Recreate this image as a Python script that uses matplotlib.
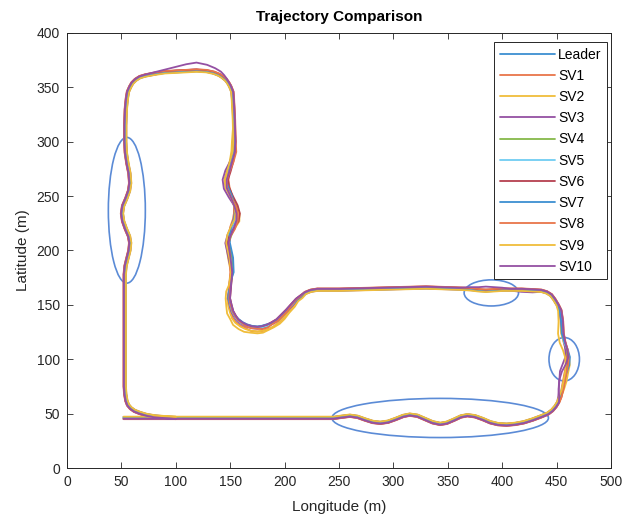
import numpy as np
import matplotlib
matplotlib.use("Agg")
import matplotlib.pyplot as plt
from matplotlib.patches import Ellipse

plt.rcParams["font.family"] = ["Liberation Sans", "DejaVu Sans"]

# Leader route (m), starting bottom-left
bottom_x = [52, 100, 160, 210, 245]
bottom_y = [46, 46, 46, 46, 46]
wave_x = [252, 260, 267, 274, 281, 288, 295, 302, 309, 315, 322, 329, 336, 343, 349, 356, 362, 368,
          375, 382, 389, 396, 404, 412, 420, 428, 436]
wave_y = [47, 48, 47, 44.5, 42.3, 41.5, 42.5, 45, 47.8, 49, 48, 45, 42, 40.5, 41.5, 44.5, 47.3, 48.5,
          47.5, 45, 42, 40.3, 39.8, 40.5, 42, 44.5, 47.5]
corner_br_x = [442, 446, 449, 451.5]
corner_br_y = [50, 53, 56.5, 60.5]
right_x = [453.5, 455, 456.5, 458, 459.5, 460, 459, 457, 455.5, 455, 453.5]
right_y = [65.5, 72, 80, 88, 95, 102, 109, 116, 124, 135, 145]
corner_tr_x = [451, 448, 445, 441, 436]
corner_tr_y = [150, 155, 159, 161.5, 163]
top_mid_x = [428, 418, 408, 400, 392, 385, 378, 370, 360, 330, 290, 250]
top_mid_y = [163.5, 164, 164, 164, 163.5, 163, 163.5, 164.5, 165, 166, 165, 164]
dip_x = [230, 224, 219, 215, 211, 207, 202, 197, 193, 188, 184, 179, 175, 170, 165, 161, 157,
         154.5, 152, 150.5, 149, 149.5]
dip_y = [164, 163, 161, 158, 155, 150.5, 145, 140, 136, 133, 131, 129.5, 129, 129.5, 131, 133, 136,
         139.5, 144, 149.5, 156, 162]
mid_x = [150, 152, 150.5, 147.5, 148.5, 151.5, 155, 156, 155, 151.5, 148, 147, 148.5, 151, 153.5,
         154, 153.5, 152.5]
mid_y = [168, 180, 193, 207, 214, 221, 228, 234, 241, 250, 258, 265, 273, 282, 291, 300, 320, 340]
corner_tm_x = [152, 150, 148, 146, 143, 140, 135]
corner_tm_y = [346, 351, 354.5, 357, 359.5, 361.5, 363.5]
top_x = [128, 119, 110, 100, 90, 80, 72]
top_y = [365, 365.5, 365, 364.5, 364, 362.5, 361]
corner_tl_x = [67, 63, 60, 58, 56, 55, 54]
corner_tl_y = [359.5, 357, 354, 350.5, 346, 340, 330]
left_x = [53.5, 53.5, 54, 55.5, 57.3, 58, 57, 54.5, 51.5, 50.5, 51.5, 54, 57, 58, 57.3, 55.5, 53.8,
          53, 53, 53]
left_y = [315, 300, 290, 280, 271, 262, 255, 248, 241, 234, 227, 220, 213, 207, 200, 193, 186,
          178, 140, 100]
corner_bl_x = [53, 53.5, 54.5, 56, 58.5, 62, 67, 73, 80, 90, 100]
corner_bl_y = [75, 68, 62, 58, 55, 52.5, 50.5, 48.7, 47.5, 46.6, 46]

segments = [
    ("bottom", bottom_x, bottom_y), ("wave", wave_x, wave_y), ("corner_br", corner_br_x, corner_br_y),
    ("right", right_x, right_y), ("corner_tr", corner_tr_x, corner_tr_y),
    ("top_mid", top_mid_x, top_mid_y), ("dip", dip_x, dip_y), ("mid", mid_x, mid_y),
    ("corner_tm", corner_tm_x, corner_tm_y), ("top", top_x, top_y),
    ("corner_tl", corner_tl_x, corner_tl_y), ("left", left_x, left_y),
    ("corner_bl", corner_bl_x, corner_bl_y),
]

labels = ["Leader", "SV1", "SV2", "SV3", "SV4", "SV5", "SV6", "SV7", "SV8", "SV9", "SV10"]
colors = ["#3d8fd1", "#e8754a", "#f0bd3a", "#9450a3", "#86b94a", "#6fcdf2",
          "#b5404f", "#3d8fd1", "#e8754a", "#f0bd3a", "#9450a3"]

# constant lateral lane of each vehicle relative to the leader (m)
lanes = [0, 0.6, -0.6, 1.0, -0.4, 0.3, -0.9, 0.8, -1.1, 1.2, -0.8]

# extra lateral deviation per route piece (m), left of travel direction is positive
deviations = {
    "SV1": {"dip": [0, 0, 0, 0, 1, 1, 2, 2, 2, 3, 3, 3, 3, 3, 2, 2, 2, 2, 1, 1, 1, 0],
            "mid": [0, -1, -2, -2, -1, 1, 2, 2, 1, -1, -2, -2, -1, 0, 1, 1, 0, 0]},
    "SV2": {"dip": [0, 0, 1, 1, 2, 2, 3, 3, 3, 4, 4, 4, 4, 4, 4, 4, 4, 4, 3, 3, 2, 1],
            "mid": [1, 2, 3, 2, 0, -2, -3, -2, 0, 2, 3, 3, 2, 2, 3, 3, 1, 0],
            "right": [0, -1, -2, -2, -2, -1, 0, 1, 2, 2, 1]},
    "SV3": {"mid": [0, 0, 1, 1, 0, 0, 0, -1, 0, 2, 3, 3, 2, 0, -1, -2, -1, 0],
            "right": [1, 2, 3, 4, 3, 1, 0, -1, -1, 0, 0],
            "top_mid": [1, 1, 0, 0, -1, -2, -1, 0, 0, 0, 0, 0],
            "top": [-1, -2, -2, -2, -1, 0, 0]},
    "SV4": {"mid": [0, 0, 0, -1, -2, -2, -1, 0, 0, 0, 0, 0, 0, 0, 0, 0, 0, 0]},
    "SV5": {"right": [0, 0, -1, -1, -2, -2, -1, 0, 0, 0, 0]},
    "SV6": {"mid": [0, 1, 2, 1, 0, -1, -2, -2, -1, 0, 0, 0, -1, -1, 0, 0, 0, 0]},
    "SV7": {"dip": [0, 0, 0, 0, 0, -1, -1, -1, -1, -1, -2, -2, -2, -2, -2, -2, -2, -1, -1, -1, 0, 0],
            "mid": [0, -2, -3, -3, -2, 0, 1, 1, 0, -1, -1, 0, 0, 0, 0, 0, 0, 0],
            "right": [0, -1, -1, -2, -3, -3, -2, -1, 0, 0, 0]},
    "SV8": {"dip": [0, 0, 0, 1, 1, 1, 2, 2, 2, 2, 3, 3, 2, 2, 2, 1, 1, 1, 1, 1, 1, 1],
            "mid": [2, 3, 2, 0, -1, -2, -1, 0, 1, 2, 2, 1, 0, -1, -1, 0, 0, 0]},
    "SV9": {"dip": [0, 0, 0, 1, 1, 2, 2, 3, 3, 3, 3, 4, 4, 4, 5, 5, 5, 4, 4, 3, 2, 2],
            "right": [0, -1, -1, -1, 0, 1, 2, 3, 3, 2, 1]},
    "SV10": {"right": [2, 4, 5, 4, 2, 0, 0, 0, 0, 0, 0],
             "top_mid": [0, 0, 0, -1, -2, -3, -2, -1, 0, 0, 0, 0],
             "mid": [0, 1, 1, 0, -1, -1, 0, 1, 2, 2, 2, 1, 0, 0, 0, 0, 0, 0],
             "corner_tm": [0, 0, 0, -0.5, -1.5, -2.5, -3.5],
             "top": [-5, -6.5, -5.5, -3.5, -1.5, -0.5, 0]},
}

# highlighted regions: centre x, centre y, width, height (m)
ellipse_cx = [55, 343, 390, 457]
ellipse_cy = [237, 46, 161, 100]
ellipse_w = [34, 199, 50, 28]
ellipse_h = [134, 36, 24, 40]

pts = np.column_stack([np.concatenate([s[1] for s in segments]),
                       np.concatenate([s[2] for s in segments])]).astype(float)
tang = np.gradient(pts, axis=0)
tang /= np.linalg.norm(tang, axis=1)[:, None]
normal = np.column_stack([-tang[:, 1], tang[:, 0]])

fig = plt.figure(figsize=(6.36, 5.26), dpi=100)
ax = fig.add_axes([67 / 636, 1 - 468 / 526, 544 / 636, 435 / 526])

for lab, col, lane in zip(labels, colors, lanes):
    dev = deviations.get(lab, {})
    off = np.concatenate([np.asarray(dev.get(name, np.zeros(len(sx))), dtype=float)
                          for name, sx, sy in segments]) + lane
    p = pts + normal * off[:, None]
    ax.plot(p[:, 0], p[:, 1], color=col, linewidth=1.3, label=lab,
            solid_joinstyle="round", solid_capstyle="round")

for cx, cy, w, h in zip(ellipse_cx, ellipse_cy, ellipse_w, ellipse_h):
    ax.add_patch(Ellipse((cx, cy), w, h, fill=False, edgecolor="#5b8bd6", linewidth=1.2))

ax.set_xlim(0, 500)
ax.set_ylim(0, 400)
ax.set_xticks(range(0, 501, 50))
ax.set_yticks(range(0, 401, 50))
ax.tick_params(direction="in", top=True, right=True, length=4, width=0.6,
               labelsize=10, colors="#262626", pad=5)
for s in ax.spines.values():
    s.set_color("#262626")
    s.set_linewidth(0.7)

ax.set_title("Trajectory Comparison", fontsize=11, fontweight="bold", pad=9)
ax.set_xlabel("Longitude (m)", fontsize=11, color="#262626", labelpad=8)
ax.set_ylabel("Latitude (m)", fontsize=11, color="#262626", labelpad=5)

leg = ax.legend(loc="upper right", bbox_to_anchor=(1 - 4 / 544, 1 - 9 / 435), borderaxespad=0,
                fontsize=10, handlelength=4.0, handletextpad=0.2, labelspacing=0.52,
                fancybox=False, framealpha=1, edgecolor="#262626", borderpad=0.4)
leg.get_frame().set_linewidth(0.7)

fig.savefig("out.png", dpi=100)
